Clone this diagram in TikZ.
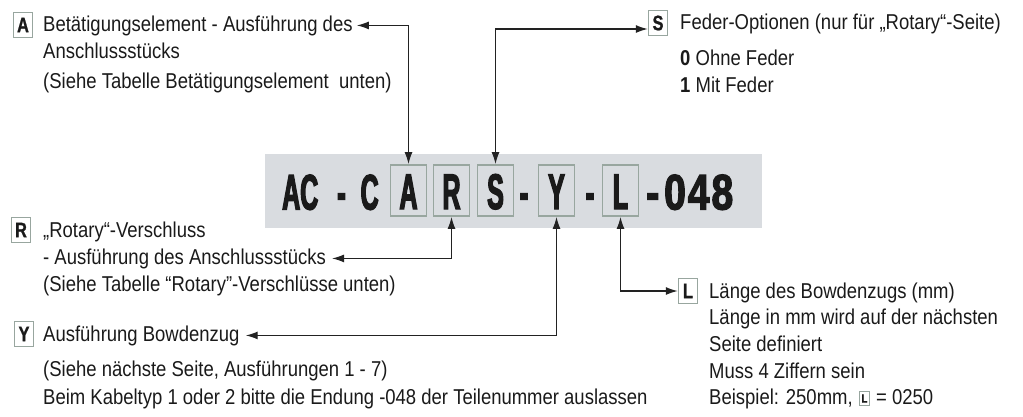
\documentclass[tikz,border=0pt]{standalone}
\usepackage{fontspec}
\setmainfont{Liberation Sans}[FakeStretch=0.86]
\newfontfamily\codefont{Liberation Sans Bold}[FakeStretch=0.5, FakeBold=2.5]
\newfontfamily\digitfont{Liberation Sans Bold}[FakeStretch=0.78, FakeBold=2.5]
\newfontfamily\lblfont{Liberation Sans Bold}[FakeStretch=0.78, FakeBold=1]
\usetikzlibrary{arrows.meta}
\definecolor{bandc}{HTML}{D9DCE0}
\definecolor{boxc}{HTML}{98A69F}
\definecolor{linec}{HTML}{222222}
\definecolor{textc}{HTML}{1A1A1A}
\tikzset{
  lbl/.style={draw=boxc, line width=1.4pt, fill=white, minimum width=19pt, minimum height=25pt, inner sep=0pt, text=textc, font=\lblfont\fontsize{21}{21}\selectfont},
  smalllbl/.style={draw=boxc, line width=1pt, fill=white, minimum width=10pt, minimum height=14pt, inner sep=0pt, text=textc, font=\lblfont\fontsize{12}{12}\selectfont},
  part/.style={draw=boxc, line width=1.8pt, minimum width=36pt, minimum height=51pt, inner sep=0pt, text height=37pt, text depth=0pt, text=textc, font=\codefont\fontsize{50}{50}\selectfont},
  codetxt/.style={anchor=base, inner sep=0pt, text=textc, font=\codefont\fontsize{50}{50}\selectfont},
  txt/.style={anchor=base west, inner sep=0pt, text=textc, font=\fontsize{21.5}{22}\selectfont},
  conn/.style={draw=linec, line width=1.3pt, {Latex[length=12pt,width=8pt]}-{Latex[length=12pt,width=8pt]}},
}
\begin{document}
\begin{tikzpicture}[x=1pt,y=-1pt]
\useasboundingbox (0,0) rectangle (1023,416);
% band
\node[fill=bandc, minimum width=497pt, minimum height=74pt, inner sep=0pt] (band) at (513.5,191) {};
% code
\node[codetxt, anchor=base west] (ac) at (282,209.5) {AC\hspace{19pt}-\hspace{15pt}C};
\node[part] (pA) at (408.5,190.5) {A};
\node[part] (pR) at (451.5,190.5) {R};
\node[part] (pS) at (495.5,190.5) {S};
\node[codetxt] (d1) at (524,209.5) {-};
\node[part] (pY) at (556.5,190.5) {Y};
\node[codetxt] (d2) at (590,209.5) {-};
\node[part] (pL) at (620.5,190.5) {L};
\node[codetxt, anchor=base west, font=\digitfont\fontsize{50}{50}\selectfont] (tail) at (646,209.5) {-\hspace{5pt}0\hspace{2pt}4\hspace{2pt}8};
% A
\node[lbl] (lA) at (23,25) {A};
\node[txt] (A1) at (43,31) {Betätigungselement - Ausführung des};
\node[txt] (A2) at (43,58) {Anschlussstücks};
\node[txt] (A3) at (43,88) {(Siehe Tabelle Betätigungselement\ \ unten)};
% S
\node[lbl] (lS) at (658,23) {S};
\node[txt] (S1) at (680,29) {Feder-Optionen (nur für „Rotary“-Seite)};
\node[txt] (S2) at (680,65) {\textbf{0} Ohne Feder};
\node[txt] (S3) at (680,92) {\textbf{1} Mit Feder};
% R
\node[lbl] (lR) at (21,230) {R};
\node[txt] (R1) at (43,237) {„Rotary“-Verschluss};
\node[txt] (R2) at (43,264) {- Ausführung des Anschlussstücks};
\node[txt] (R3) at (43,291) {(Siehe Tabelle “Rotary”-Verschlüsse unten)};
% Y
\node[lbl] (lY) at (24,334) {Y};
\node[txt] (Y1) at (43,341) {Ausführung Bowdenzug};
\node[txt] (Y2) at (43,376) {(Siehe nächste Seite, Ausführungen 1 - 7)};
\node[txt] (Y3) at (43,404) {Beim Kabeltyp 1 oder 2 bitte die Endung -048 der Teilenummer auslassen};
% L
\node[lbl] (lL) at (688,291) {L};
\node[txt] (L1) at (709,298) {Länge des Bowdenzugs (mm)};
\node[txt] (L2) at (709,324) {Länge in mm wird auf der nächsten};
\node[txt] (L3) at (709,351) {Seite definiert};
\node[txt] (L4) at (709,378) {Muss 4 Ziffern sein};
\node[txt] (L5) at (709,404) {Beispiel: 250mm,};
\node[smalllbl, anchor=west] (Ls) at ([xshift=6pt]L5.east) {L};
\node[txt] (L6) at ([xshift=6pt]Ls.east |- L5.base) {=\ 0250};
% connectors
\draw[conn] ([xshift=4pt]A1.east) -| (pA.north);
\draw[conn] (pS.north) |- ([yshift=-6pt]lS.west);
\draw[conn] ([xshift=6pt]R2.east) -| (pR.south);
\draw[conn] ([xshift=6pt]Y1.east) -| (pY.south);
\draw[conn] (pL.south) |- (lL.west);
\end{tikzpicture}
\end{document}
